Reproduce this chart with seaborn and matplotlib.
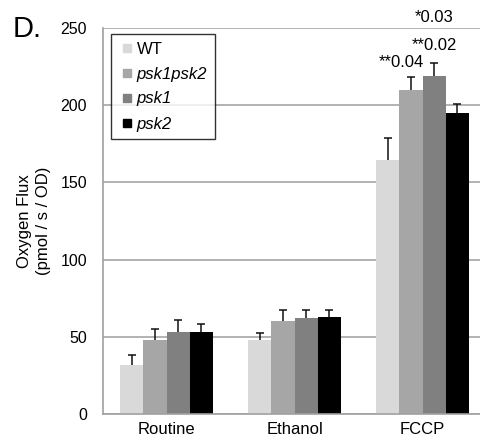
import matplotlib
matplotlib.use("Agg")
import matplotlib.pyplot as plt
import seaborn as sns
import pandas as pd
from matplotlib.lines import Line2D

conditions = ["Routine", "Ethanol", "FCCP"]
strains = ["WT", "psk1psk2", "psk1", "psk2"]
values = {
    "WT":       [32, 48, 164.5],
    "psk1psk2": [48, 60, 210],
    "psk1":     [53, 62, 219],
    "psk2":     [53, 63, 195],
}
errors = {
    "WT":       [6, 4.5, 14],
    "psk1psk2": [7, 7.5, 8],
    "psk1":     [8, 5.5, 8.5],
    "psk2":     [5, 4.5, 5.5],
}
colors = ["#d9d9d9", "#a6a6a6", "#808080", "#000000"]
legend_labels = ["WT", "psk1psk2", "psk1", "psk2"]
annotations = ["**0.04", "**0.02", "*0.03"]
yticks = [0, 50, 100, 150, 200, 250]

rows = []
for s in strains:
    for c, v in zip(conditions, values[s]):
        rows.append({"cond": c, "strain": s, "val": v})
df = pd.DataFrame(rows)

sns.set_style("white")
plt.rcParams["font.family"] = ["Liberation Sans", "DejaVu Sans"]
plt.rcParams["text.color"] = "black"
plt.rcParams["axes.labelcolor"] = "black"
plt.rcParams["xtick.color"] = "black"
plt.rcParams["ytick.color"] = "black"

fig = plt.figure(figsize=(4.8, 4.42), dpi=100)
ax = fig.add_axes([102.5 / 480, 28 / 442, 384 / 480, 386 / 442])

sns.barplot(data=df, x="cond", y="val", hue="strain", order=conditions,
            hue_order=strains, palette=colors, width=0.727, gap=0,
            errorbar=None, legend=False, linewidth=0, ax=ax, zorder=2)

for cont, s in zip(ax.containers, strains):
    for patch, e in zip(cont.patches, errors[s]):
        xc = patch.get_x() + patch.get_width() / 2
        h = patch.get_height()
        _, caps, _ = ax.errorbar([xc], [h], yerr=[[0], [e]], fmt="none",
                                 ecolor="#111111", elinewidth=1.1, capsize=3,
                                 capthick=1.1, zorder=3)
        if len(caps) == 2:
            caps[0].set_visible(False)

ax.set_ylim(0, 250)
ax.set_xlim(-0.5, 2.5)
ax.set_yticks(yticks)
ax.yaxis.grid(True, color="#a6a6a6", linewidth=1.2, zorder=0)
ax.set_axisbelow(True)
for sp in ["top", "right"]:
    ax.spines[sp].set_visible(False)
ax.spines["left"].set_color("#a0a0a0")
ax.spines["bottom"].set_color("#a0a0a0")
ax.spines["left"].set_linewidth(1.2)
ax.spines["bottom"].set_linewidth(1.2)
ax.tick_params(axis="y", length=5, color="#a0a0a0", labelcolor="black",
               width=1.2, labelsize=11.5, pad=6)
ax.tick_params(axis="x", length=0, labelcolor="black", labelsize=12, pad=6)
ax.set_xlabel("")
ax.set_ylabel("Oxygen Flux\n(pmol / s / OD)", fontsize=12, labelpad=7,
              linespacing=1.35, color="black")

# annotations above FCCP bars
fcc = [ax.containers[i].patches[2] for i in range(4)]
x1 = fcc[1].get_x() + fcc[1].get_width() / 2
x2 = fcc[2].get_x() + fcc[2].get_width() / 2
ax.text(x1 - 0.074, 227.5, annotations[0], ha="center", va="center", fontsize=12)
ax.text(x2, 238.5, annotations[1], ha="center", va="center", fontsize=12)
ax.text(x2, 257, annotations[2], ha="center", va="center", fontsize=12, clip_on=False)

handles = [Line2D([0], [0], marker="s", linestyle="none", markersize=6,
                  markerfacecolor=c, markeredgecolor=c) for c in colors]
leg = fig.legend(handles, legend_labels, loc="upper left",
                 bbox_to_anchor=(111 / 480, 1 - 34 / 442), frameon=True,
                 fancybox=False, edgecolor="black", fontsize=12,
                 labelspacing=0.6, handletextpad=0.1, handlelength=1.0,
                 borderpad=0.45, borderaxespad=0)
leg.get_frame().set_linewidth(1.0)
for t, lab in zip(leg.get_texts(), legend_labels):
    if lab != "WT":
        t.set_style("italic")

fig.text(13 / 480, 1 - 37 / 442, "D.", fontsize=21, ha="left", va="baseline")

fig.savefig("out.png", dpi=100)
